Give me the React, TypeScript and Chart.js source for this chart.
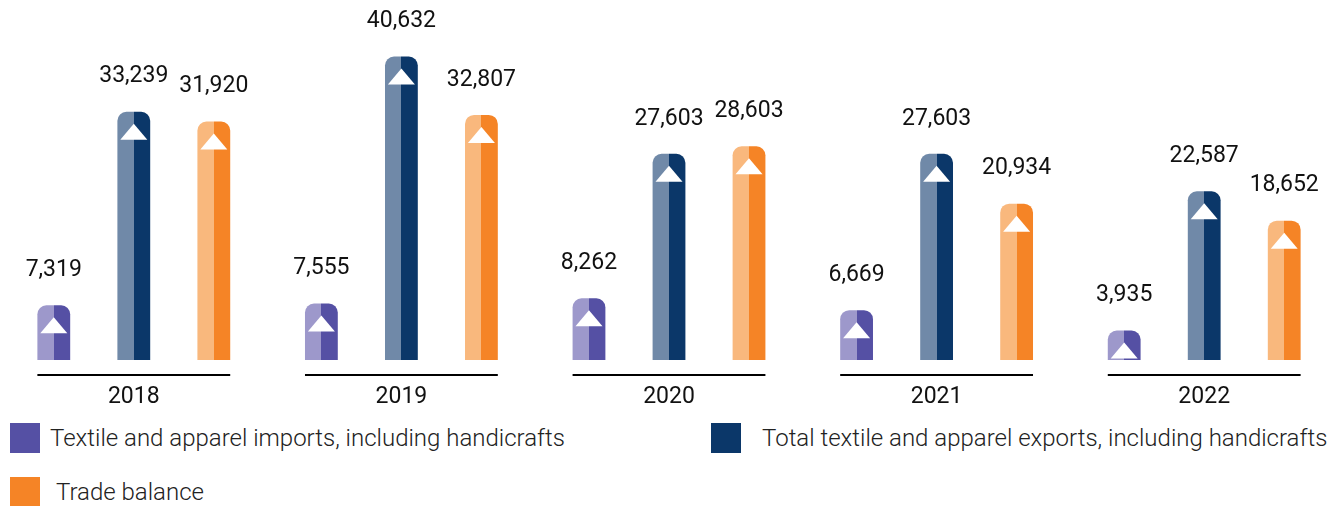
import React, { useEffect, useRef } from "react";
import { Chart, registerables } from "chart.js";

Chart.register(...registerables);

const years = ["2018", "2019", "2020", "2021", "2022"];
const importsValues = [7319, 7555, 8262, 6669, 3935];
const exportsValues = [33239, 40632, 27603, 27603, 22587];
const balanceValues = [31920, 32807, 28603, 20934, 18652];
const seriesNames = [
  "Textile and apparel imports, including handicrafts",
  "Total textile and apparel exports, including handicrafts",
  "Trade balance",
];

const lightColors = ["#9d98cb", "#7089a8", "#f9b87d"];
const darkColors = ["#5550a4", "#0b3769", "#f58426"];

const fmt = (v: number) => v.toLocaleString("en-US");

const decorPlugin = {
  id: "decor",
  beforeDatasetsDraw(chart: any) {
    const ctx = chart.ctx;
    chart.data.datasets.forEach((_ds: any, i: number) => {
      const meta = chart.getDatasetMeta(i);
      meta.data.forEach((el: any) => {
        const x = el.x;
        const w = el.width;
        const g = ctx.createLinearGradient(x - w / 2, 0, x + w / 2, 0);
        g.addColorStop(0, lightColors[i]);
        g.addColorStop(0.5, lightColors[i]);
        g.addColorStop(0.5, darkColors[i]);
        g.addColorStop(1, darkColors[i]);
        el.options = Object.assign({}, el.options, { backgroundColor: g });
      });
    });
  },
  afterDatasetsDraw(chart: any) {
    const ctx = chart.ctx;
    const area = chart.chartArea;
    ctx.save();
    chart.data.datasets.forEach((ds: any, i: number) => {
      const meta = chart.getDatasetMeta(i);
      meta.data.forEach((el: any, j: number) => {
        const x = el.x;
        const y = el.y;
        ctx.fillStyle = "#ffffff";
        ctx.beginPath();
        ctx.moveTo(x, y + 12);
        ctx.lineTo(x - 13.5, y + 28);
        ctx.lineTo(x + 13.5, y + 28);
        ctx.closePath();
        ctx.fill();
        ctx.fillStyle = "#111111";
        ctx.font = "23px Roboto";
        ctx.textAlign = "center";
        ctx.textBaseline = "middle";
        ctx.fillText(fmt(ds.data[j]), x, y - 35);
      });
    });
    years.forEach((yr, j) => {
      let left = Infinity;
      let right = -Infinity;
      chart.data.datasets.forEach((_d: any, i: number) => {
        const el = chart.getDatasetMeta(i).data[j];
        left = Math.min(left, el.x - el.width / 2);
        right = Math.max(right, el.x + el.width / 2);
      });
      const ly = area.bottom + 15;
      ctx.strokeStyle = "#000000";
      ctx.lineWidth = 2;
      ctx.beginPath();
      ctx.moveTo(left, ly);
      ctx.lineTo(right, ly);
      ctx.stroke();
      ctx.fillStyle = "#111111";
      ctx.font = "23px Roboto";
      ctx.textAlign = "center";
      ctx.textBaseline = "middle";
      ctx.fillText(yr, (left + right) / 2, area.bottom + 37);
    });
    ctx.restore();
  },
};

export default function App() {
  const canvasRef = useRef<HTMLCanvasElement | null>(null);

  useEffect(() => {
    if (!canvasRef.current) return;
    const radius = { topLeft: 9, topRight: 9, bottomLeft: 0, bottomRight: 0 };
    const chart = new Chart(canvasRef.current, {
      type: "bar",
      data: {
        labels: years,
        datasets: [
          { label: seriesNames[0], data: importsValues, backgroundColor: darkColors[0], borderRadius: radius, borderSkipped: false },
          { label: seriesNames[1], data: exportsValues, backgroundColor: darkColors[1], borderRadius: radius, borderSkipped: false },
          { label: seriesNames[2], data: balanceValues, backgroundColor: darkColors[2], borderRadius: radius, borderSkipped: false },
        ],
      },
      options: {
        responsive: true,
        maintainAspectRatio: false,
        animation: false,
        layout: { padding: { top: 0, bottom: 60, left: 0, right: 0 } },
        categoryPercentage: 0.897,
        barPercentage: 0.41,
        plugins: { legend: { display: false }, tooltip: { enabled: false } },
        scales: {
          x: { display: false },
          y: { display: false, min: 0, max: 48200 },
        },
      } as any,
      plugins: [decorPlugin],
    });
    return () => chart.destroy();
  }, []);

  const legendPos = [
    { left: 10, top: 423, gap: 10 },
    { left: 711, top: 423, gap: 21 },
    { left: 10, top: 477, gap: 16 },
  ];

  return (
    <div style={{ position: "absolute", left: 0, top: 0, width: 1338, height: 506, fontFamily: "Roboto, sans-serif", background: "#fff" }}>
      <div style={{ position: "absolute", left: 0, top: 0, width: 1338, height: 420 }}>
        <canvas ref={canvasRef} />
      </div>
      {seriesNames.map((name, i) => (
        <div
          key={name}
          style={{
            position: "absolute",
            left: legendPos[i].left,
            top: legendPos[i].top,
            height: 30,
            display: "flex",
            alignItems: "center",
            whiteSpace: "nowrap",
          }}
        >
          <div style={{ width: 30, height: 30, background: darkColors[i], flexShrink: 0 }} />
          <span style={{ marginLeft: legendPos[i].gap, fontSize: 24, fontWeight: 300, color: "#222" }}>{name}</span>
        </div>
      ))}
    </div>
  );
}
